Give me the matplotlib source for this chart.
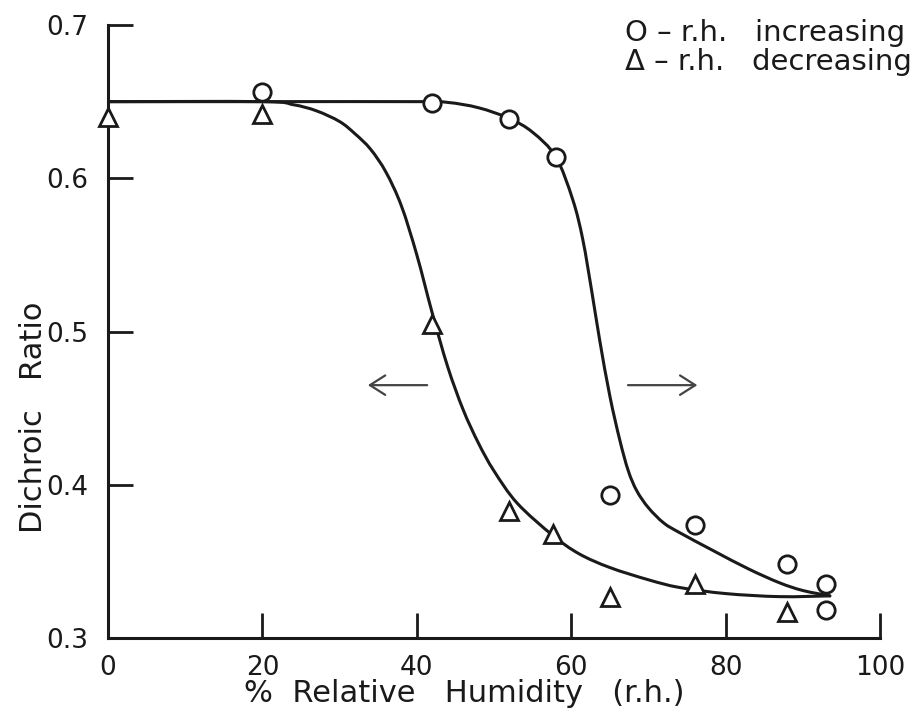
import numpy as np
import matplotlib
matplotlib.use('Agg')
import matplotlib.pyplot as plt
from matplotlib.path import Path
from matplotlib.patches import PathPatch

rh_inc = [20, 42, 52, 58, 65, 76, 88, 93, 93]
dr_inc = [0.656, 0.649, 0.639, 0.614, 0.393, 0.374, 0.348, 0.335, 0.318]
rh_dec = [0, 20, 42, 52, 57.6, 65, 76, 88]
dr_dec = [0.640, 0.642, 0.505, 0.383, 0.368, 0.327, 0.335, 0.317]

# Hand-drawn curves
curve_inc_x = [0, 20, 40, 44, 48, 52, 55, 58, 60.2, 61.5, 62.7, 63.7, 65, 66.3,
               67.4, 68.5, 70, 72, 74.1, 78.4, 83, 87, 90, 93.5]
curve_inc_y = [0.650, 0.650, 0.650, 0.6495, 0.646, 0.639, 0.630, 0.614, 0.586,
               0.560, 0.525, 0.494, 0.458, 0.429, 0.409, 0.396, 0.385, 0.375,
               0.3686, 0.357, 0.345, 0.336, 0.331, 0.3275]
curve_dec_x = [0, 20, 24, 27, 30, 32, 34, 36, 38, 40, 42, 44, 46, 48, 50, 53,
               57.6, 61, 65, 70, 74, 80, 87, 93.5]
curve_dec_y = [0.650, 0.650, 0.648, 0.644, 0.637, 0.629, 0.619, 0.604, 0.582,
               0.550, 0.512, 0.477, 0.449, 0.427, 0.409, 0.388, 0.367, 0.355,
               0.346, 0.338, 0.333, 0.329, 0.327, 0.3275]

x_ticks = [0, 20, 40, 60, 80, 100]
y_ticks = [0.3, 0.4, 0.5, 0.6, 0.7]

ink = '#1a1a1a'


def smooth_path(xs, ys):
    # Catmull-Rom through the traced points, as cubic bezier segments
    p = np.column_stack([xs, ys]).astype(float)
    p = np.vstack([p[0], p, p[-1]])
    verts = [p[1]]
    codes = [Path.MOVETO]
    for i in range(1, len(p) - 2):
        c1 = p[i] + (p[i + 1] - p[i - 1]) / 6.0
        c2 = p[i + 1] - (p[i + 2] - p[i]) / 6.0
        verts += [c1, c2, p[i + 1]]
        codes += [Path.CURVE4] * 3
    return Path(verts, codes)


fig = plt.figure(figsize=(9.24, 7.21), dpi=100)
ax = fig.add_axes([0.1169, 0.1151, 0.8355, 0.8502])

for cx, cy in [(curve_inc_x, curve_inc_y), (curve_dec_x, curve_dec_y)]:
    ax.add_patch(PathPatch(smooth_path(cx, cy), fill=False, edgecolor=ink,
                           lw=2.2, capstyle='round', zorder=2))

ax.plot(rh_inc, dr_inc, 'o', ms=12.5, mfc='white', mec=ink, mew=2.0,
        ls='none', zorder=4, clip_on=False)
ax.plot(rh_dec, dr_dec, '^', ms=12.5, mfc='white', mec=ink, mew=2.0,
        ls='none', zorder=4, clip_on=False)

# direction arrows
arrow_style = '->,head_length=1.1,head_width=0.7'
ax.annotate('', xy=(33.3, 0.465), xytext=(41.7, 0.465),
            arrowprops=dict(arrowstyle=arrow_style, color='#444444', lw=1.6))
ax.annotate('', xy=(76.7, 0.465), xytext=(67.0, 0.465),
            arrowprops=dict(arrowstyle=arrow_style, color='#444444', lw=1.6))

ax.set_xlim(0, 100)
ax.set_ylim(0.3, 0.7)
ax.set_xticks(x_ticks)
ax.set_xticklabels([str(t) for t in x_ticks])
ax.set_yticks(y_ticks)
ax.set_yticklabels(['0.3', '0.4', '0.5', '0.6', '0.7'])

for s in ['top', 'right']:
    ax.spines[s].set_visible(False)
for s in ['left', 'bottom']:
    ax.spines[s].set_linewidth(2.2)
    ax.spines[s].set_color(ink)
    ax.spines[s].set_zorder(1)

ax.tick_params(direction='in', length=18, width=2.0, color=ink,
               labelsize=19, labelcolor=ink)
ax.tick_params(axis='x', pad=12)
ax.tick_params(axis='y', pad=14)

ax.text(0.462, -0.09, '%  Relative   Humidity   (r.h.)', transform=ax.transAxes,
        ha='center', va='center', fontsize=22, color=ink)
ax.text(-0.097, 0.36, 'Dichroic   Ratio', transform=ax.transAxes, rotation=90,
        ha='center', va='center', fontsize=22, color=ink)

ax.text(0.67, 0.987, 'O – r.h.   increasing', transform=ax.transAxes,
        ha='left', va='center', fontsize=21, color=ink)
ax.text(0.67, 0.940, 'Δ – r.h.   decreasing', transform=ax.transAxes,
        ha='left', va='center', fontsize=21, color=ink)

fig.savefig('out.png', dpi=100)
